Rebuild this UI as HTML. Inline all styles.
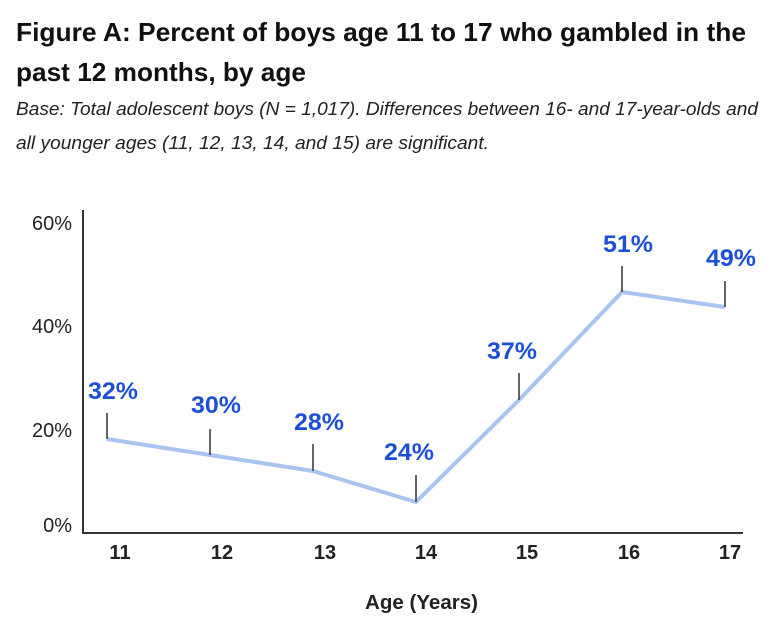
<!DOCTYPE html>
<html>
<head>
<meta charset="utf-8">
<style>
html,body{margin:0;padding:0;background:#fff;}
svg{display:block;}
</style>
</head>
<body>
<svg width="784" height="624" viewBox="0 0 784 624" xmlns="http://www.w3.org/2000/svg">
<rect width="784" height="624" fill="#fff"/>
<g font-family="Liberation Sans, sans-serif">
<text x="16" y="41" font-size="26" font-weight="bold" fill="#111" textLength="730" lengthAdjust="spacingAndGlyphs">Figure A: Percent of boys age 11 to 17 who gambled in the</text>
<text x="16" y="81" font-size="26" font-weight="bold" fill="#111" textLength="290" lengthAdjust="spacingAndGlyphs">past 12 months, by age</text>
<text x="16" y="115" font-size="18" font-style="italic" fill="#222" textLength="742" lengthAdjust="spacingAndGlyphs">Base: Total adolescent boys (N = 1,017). Differences between 16- and 17-year-olds and</text>
<text x="16" y="149" font-size="18" font-style="italic" fill="#222" textLength="473" lengthAdjust="spacingAndGlyphs">all younger ages (11, 12, 13, 14, and 15) are significant.</text>

<!-- axes -->
<line x1="83" y1="210" x2="83" y2="534" stroke="#333" stroke-width="2"/>
<line x1="82" y1="533" x2="743" y2="533" stroke="#333" stroke-width="2"/>

<!-- y labels -->
<g font-size="20" fill="#222" text-anchor="end">
<text x="72" y="230">60%</text>
<text x="72" y="333">40%</text>
<text x="72" y="437">20%</text>
<text x="72" y="532">0%</text>
</g>

<!-- x labels -->
<g font-size="20" font-weight="bold" fill="#222" text-anchor="middle">
<text x="120" y="559">11</text>
<text x="222" y="559">12</text>
<text x="325" y="559">13</text>
<text x="426" y="559">14</text>
<text x="527" y="559">15</text>
<text x="629" y="559">16</text>
<text x="730" y="559">17</text>
</g>
<text x="421.5" y="609" font-size="20" font-weight="bold" fill="#222" text-anchor="middle" textLength="113" lengthAdjust="spacingAndGlyphs">Age (Years)</text>

<!-- series -->
<polyline points="107,439 210,455 313,471 416,502 519,400 622,292 725,307" fill="none" stroke="#a9c4f0" stroke-width="4" stroke-linejoin="round"/>

<!-- leader ticks -->
<g stroke="#333" stroke-width="1.5">
<line x1="107" y1="413" x2="107" y2="439"/>
<line x1="210" y1="429" x2="210" y2="455"/>
<line x1="313" y1="444" x2="313" y2="471"/>
<line x1="416" y1="475" x2="416" y2="502"/>
<line x1="519" y1="373" x2="519" y2="400"/>
<line x1="622" y1="266" x2="622" y2="292"/>
<line x1="725" y1="281" x2="725" y2="307"/>
</g>

<!-- data labels -->
<g font-size="24" font-weight="bold" fill="#1b4fd8" text-anchor="middle">
<text x="113" y="399" textLength="50" lengthAdjust="spacingAndGlyphs">32%</text>
<text x="216" y="413" textLength="50" lengthAdjust="spacingAndGlyphs">30%</text>
<text x="319" y="430" textLength="50" lengthAdjust="spacingAndGlyphs">28%</text>
<text x="409" y="460" textLength="50" lengthAdjust="spacingAndGlyphs">24%</text>
<text x="512" y="359" textLength="50" lengthAdjust="spacingAndGlyphs">37%</text>
<text x="628" y="252" textLength="50" lengthAdjust="spacingAndGlyphs">51%</text>
<text x="731" y="266" textLength="50" lengthAdjust="spacingAndGlyphs">49%</text>
</g>
</g>
</svg>
</body>
</html>
